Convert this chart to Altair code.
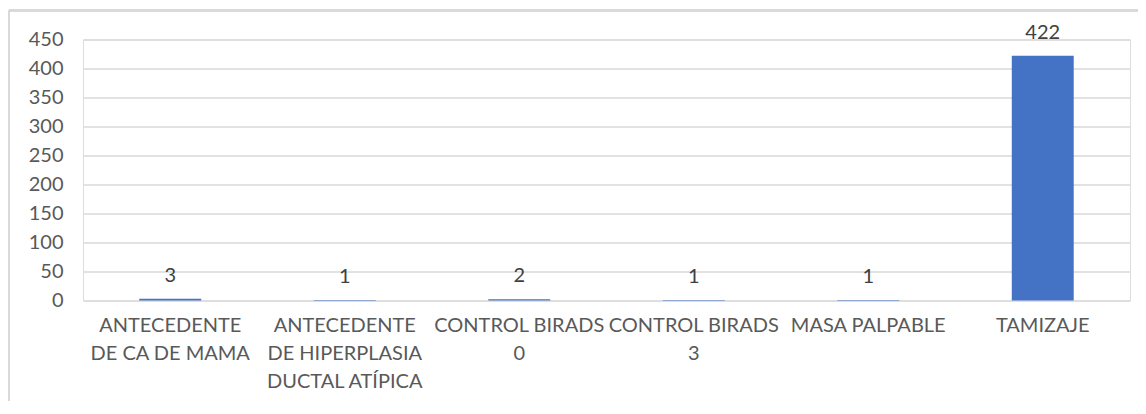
import json
import altair as alt
import pandas as pd

categories = [
    "ANTECEDENTE DE CA DE MAMA",
    "ANTECEDENTE DE HIPERPLASIA DUCTAL ATÍPICA",
    "CONTROL BIRADS 0",
    "CONTROL BIRADS 3",
    "MASA PALPABLE",
    "TAMIZAJE",
]
values = [3, 1, 2, 1, 1, 422]
wrapped_labels = [
    ["ANTECEDENTE", "DE CA DE MAMA"],
    ["ANTECEDENTE", "DE HIPERPLASIA", "DUCTAL ATÍPICA"],
    ["CONTROL BIRADS", "0"],
    ["CONTROL BIRADS", "3"],
    ["MASA PALPABLE"],
    ["TAMIZAJE"],
]
y_ticks = [0, 50, 100, 150, 200, 250, 300, 350, 400, 450]

df = pd.DataFrame({"cat": categories, "val": values})

# Build multi-line label expression
expr = "datum.label"
for cat, lines in reversed(list(zip(categories, wrapped_labels))):
    expr = f"datum.label == {json.dumps(cat)} ? {json.dumps(lines)} : ({expr})"

FONT = "Lato"
W, H = 1047, 261

x_enc = alt.X(
    "cat:N",
    sort=categories,
    scale=alt.Scale(paddingInner=0.645, paddingOuter=0.3225),
    axis=alt.Axis(
        title=None, labelAngle=0, domain=False, ticks=False,
        labelExpr=expr, labelFont=FONT, labelFontSize=20, labelColor="#595959",
        labelLineHeight=28, labelPadding=15, labelLimit=300, labelOverlap=False,
    ),
)
y_enc = alt.Y(
    "val:Q",
    scale=alt.Scale(domain=[0, 450], nice=False),
    axis=alt.Axis(
        title=None, values=y_ticks, tickCount=10, domain=False, ticks=False,
        labelFont=FONT, labelFontSize=20, labelColor="#595959", labelPadding=20,
        labelOverlap=False, labelBound=False,
        gridColor="#d9d9d9", gridWidth=1.3,
    ),
)

bars = alt.Chart(df).mark_bar(color="#4472C4").encode(x=x_enc, y=y_enc)
labels = alt.Chart(df).mark_text(
    baseline="alphabetic", dy=-17, font=FONT, fontSize=20, color="#404040"
).encode(x=x_enc, y=y_enc, text="val:Q")

frame_top = alt.Chart(df).mark_rule(color="#d9d9d9", strokeWidth=2).encode(
    x=alt.value(-74), x2=alt.value(W + 10), y=alt.value(-29)
)
frame_left = alt.Chart(df).mark_rule(color="#d9d9d9", strokeWidth=2).encode(
    x=alt.value(-74), y=alt.value(-29), y2=alt.value(H + 110)
)

chart = alt.layer(frame_top, frame_left, bars, labels).properties(
    width=W, height=H,
    padding={"left": 75, "top": 31.5, "right": 8, "bottom": 100},
    autosize=alt.AutoSizeParams(type="none"),
).configure_view(stroke=None).configure(background="white")

chart.save("out.html", embed_options={"renderer": "svg", "actions": False})
